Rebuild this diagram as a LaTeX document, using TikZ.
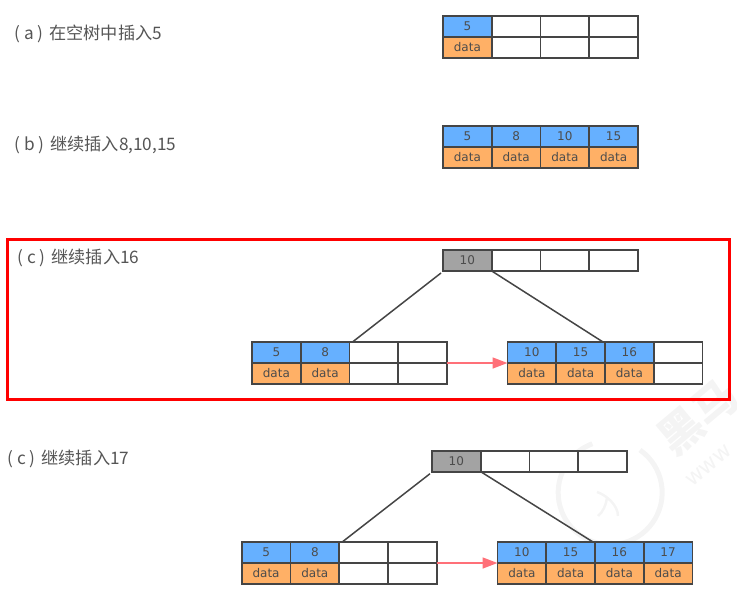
\documentclass[tikz,border=0pt]{standalone}
\usepackage{fontspec}
\setmainfont{Noto Sans CJK SC}
\newfontfamily\cellfont{DejaVu Sans}
\usetikzlibrary{arrows.meta}
\definecolor{keyblue}{HTML}{66B0FF}
\definecolor{dataorange}{HTML}{FFB066}
\definecolor{rootgray}{HTML}{A3A3A3}
\definecolor{edgegray}{HTML}{454545}
\definecolor{labelgray}{HTML}{555555}
\definecolor{framered}{HTML}{FF0000}
\definecolor{linkpink}{HTML}{FF7078}
\definecolor{markgray}{HTML}{F4F4F4}
\tikzset{
  x=1pt,y=-1pt,
  cellbox/.style={draw=edgegray,line width=1.7pt,outer sep=0pt,minimum width=48.75pt,minimum height=21pt,inner sep=0pt,anchor=north west,font=\cellfont\fontsize{12}{14}\selectfont,text=black!70},
  keycell/.style={cellbox,fill=keyblue},
  datacell/.style={cellbox,fill=dataorange},
  emptycell/.style={cellbox,fill=white},
  rootcell/.style={cellbox,fill=rootgray},
  steplabel/.style={anchor=west,inner sep=0pt,text=labelgray,font=\fontsize{17.2}{20}\selectfont},
  treeline/.style={draw=edgegray,line width=1.5pt},
  linkline/.style={draw=linkpink,line width=1.6pt,-{Triangle[length=15pt,width=11pt]}},
  marktext/.style={text=markgray,inner sep=0pt,rotate=40},
}
\newcommand{\paren}[1]{(\hspace{4pt}#1\hspace{4pt})\hspace{2pt} }
\newcommand{\keyrow}[4]{%
  \foreach \i/\k in {#4}{%
    \node[keycell] (#1k\i) at ({#2+48.75*(\i-1)},#3) {\k};
  }}
\newcommand{\datarow}[4]{%
  \foreach \i in {#4}{%
    \node[datacell] (#1d\i) at ({#2+48.75*(\i-1)},{#3+21}) {data};
  }}
\newcommand{\blanktop}[4]{%
  \foreach \i in {#4}{%
    \node[emptycell] (#1k\i) at ({#2+48.75*(\i-1)},#3) {};
  }}
\newcommand{\blankbot}[4]{%
  \foreach \i in {#4}{%
    \node[emptycell] (#1d\i) at ({#2+48.75*(\i-1)},{#3+21}) {};
  }}
\begin{document}
\begin{tikzpicture}
\useasboundingbox (0,0) rectangle (737,611);
% watermark
\node[marktext,font=\bfseries\fontsize{44}{46}\selectfont] (wm1) at (698,417) {黑马};
\node[marktext,font=\cellfont\fontsize{22}{24}\selectfont] (wm2) at (709,466) {www};
\draw[draw=markgray,line width=5pt] (640,450) arc[start angle=-55,end angle=250,radius=52pt,x radius=52pt,y radius=-52pt];
\draw[draw=markgray,line width=2.5pt] (597,492) .. controls (606,495) and (618,505) .. (618,516);
\draw[draw=markgray,line width=2.5pt] (607,498) .. controls (606,505) and (603,512) .. (598,516);
% labels
\node[steplabel] (la) at (14,34) {\paren{a}在空树中插入5};
\node[steplabel] (lb) at (14,145) {\paren{b}继续插入8,10,15};
\node[steplabel] (lc) at (17,258) {\paren{c}继续插入16};
\node[steplabel] (ld) at (7,459) {\paren{c}继续插入17};
% frame
\node[draw=framered,line width=2.6pt,outer sep=0pt,minimum width=722pt,minimum height=159.6pt,inner sep=0pt,anchor=north west] (frame) at (7.5,239.7) {};
% (a)
\keyrow{a}{443}{16}{1/5}
\datarow{a}{443}{16}{1}
\blanktop{a}{443}{16}{2,3,4}
\blankbot{a}{443}{16}{2,3,4}
% (b)
\keyrow{b}{443}{126}{1/5,2/8,3/10,4/15}
\datarow{b}{443}{126}{1,2,3,4}
% (c)
\node[rootcell] (cr1) at (443,250) {10};
\blanktop{cr}{443}{250}{2,3,4}
\keyrow{cl}{252}{342}{1/5,2/8}
\datarow{cl}{252}{342}{1,2}
\blanktop{cl}{252}{342}{3,4}
\blankbot{cl}{252}{342}{3,4}
\keyrow{cx}{507.5}{342}{1/10,2/15,3/16}
\datarow{cx}{507.5}{342}{1,2,3}
\blanktop{cx}{507.5}{342}{4}
\blankbot{cx}{507.5}{342}{4}
\draw[treeline] ([xshift=-2pt,yshift=-2pt]cr1.south west) -- ([xshift=3pt]clk3.north west);
\draw[treeline] (cr1.south east) -- ([xshift=-2pt]cxk2.north east);
\draw[linkline] (clk4.south east) -- (cxk1.south west);
% (d)
\node[rootcell] (dr1) at (432,450.7) {10};
\blanktop{dr}{432}{450.7}{2,3,4}
\keyrow{dl}{241.7}{542}{1/5,2/8}
\datarow{dl}{241.7}{542}{1,2}
\blanktop{dl}{241.7}{542}{3,4}
\blankbot{dl}{241.7}{542}{3,4}
\keyrow{dx}{497.5}{542}{1/10,2/15,3/16,4/17}
\datarow{dx}{497.5}{542}{1,2,3,4}
\draw[treeline] ([xshift=-2pt,yshift=-2pt]dr1.south west) -- ([xshift=3pt]dlk3.north west);
\draw[treeline] (dr1.south east) -- ([xshift=-2pt]dxk2.north east);
\draw[linkline] (dlk4.south east) -- (dxk1.south west);
\end{tikzpicture}
\end{document}
